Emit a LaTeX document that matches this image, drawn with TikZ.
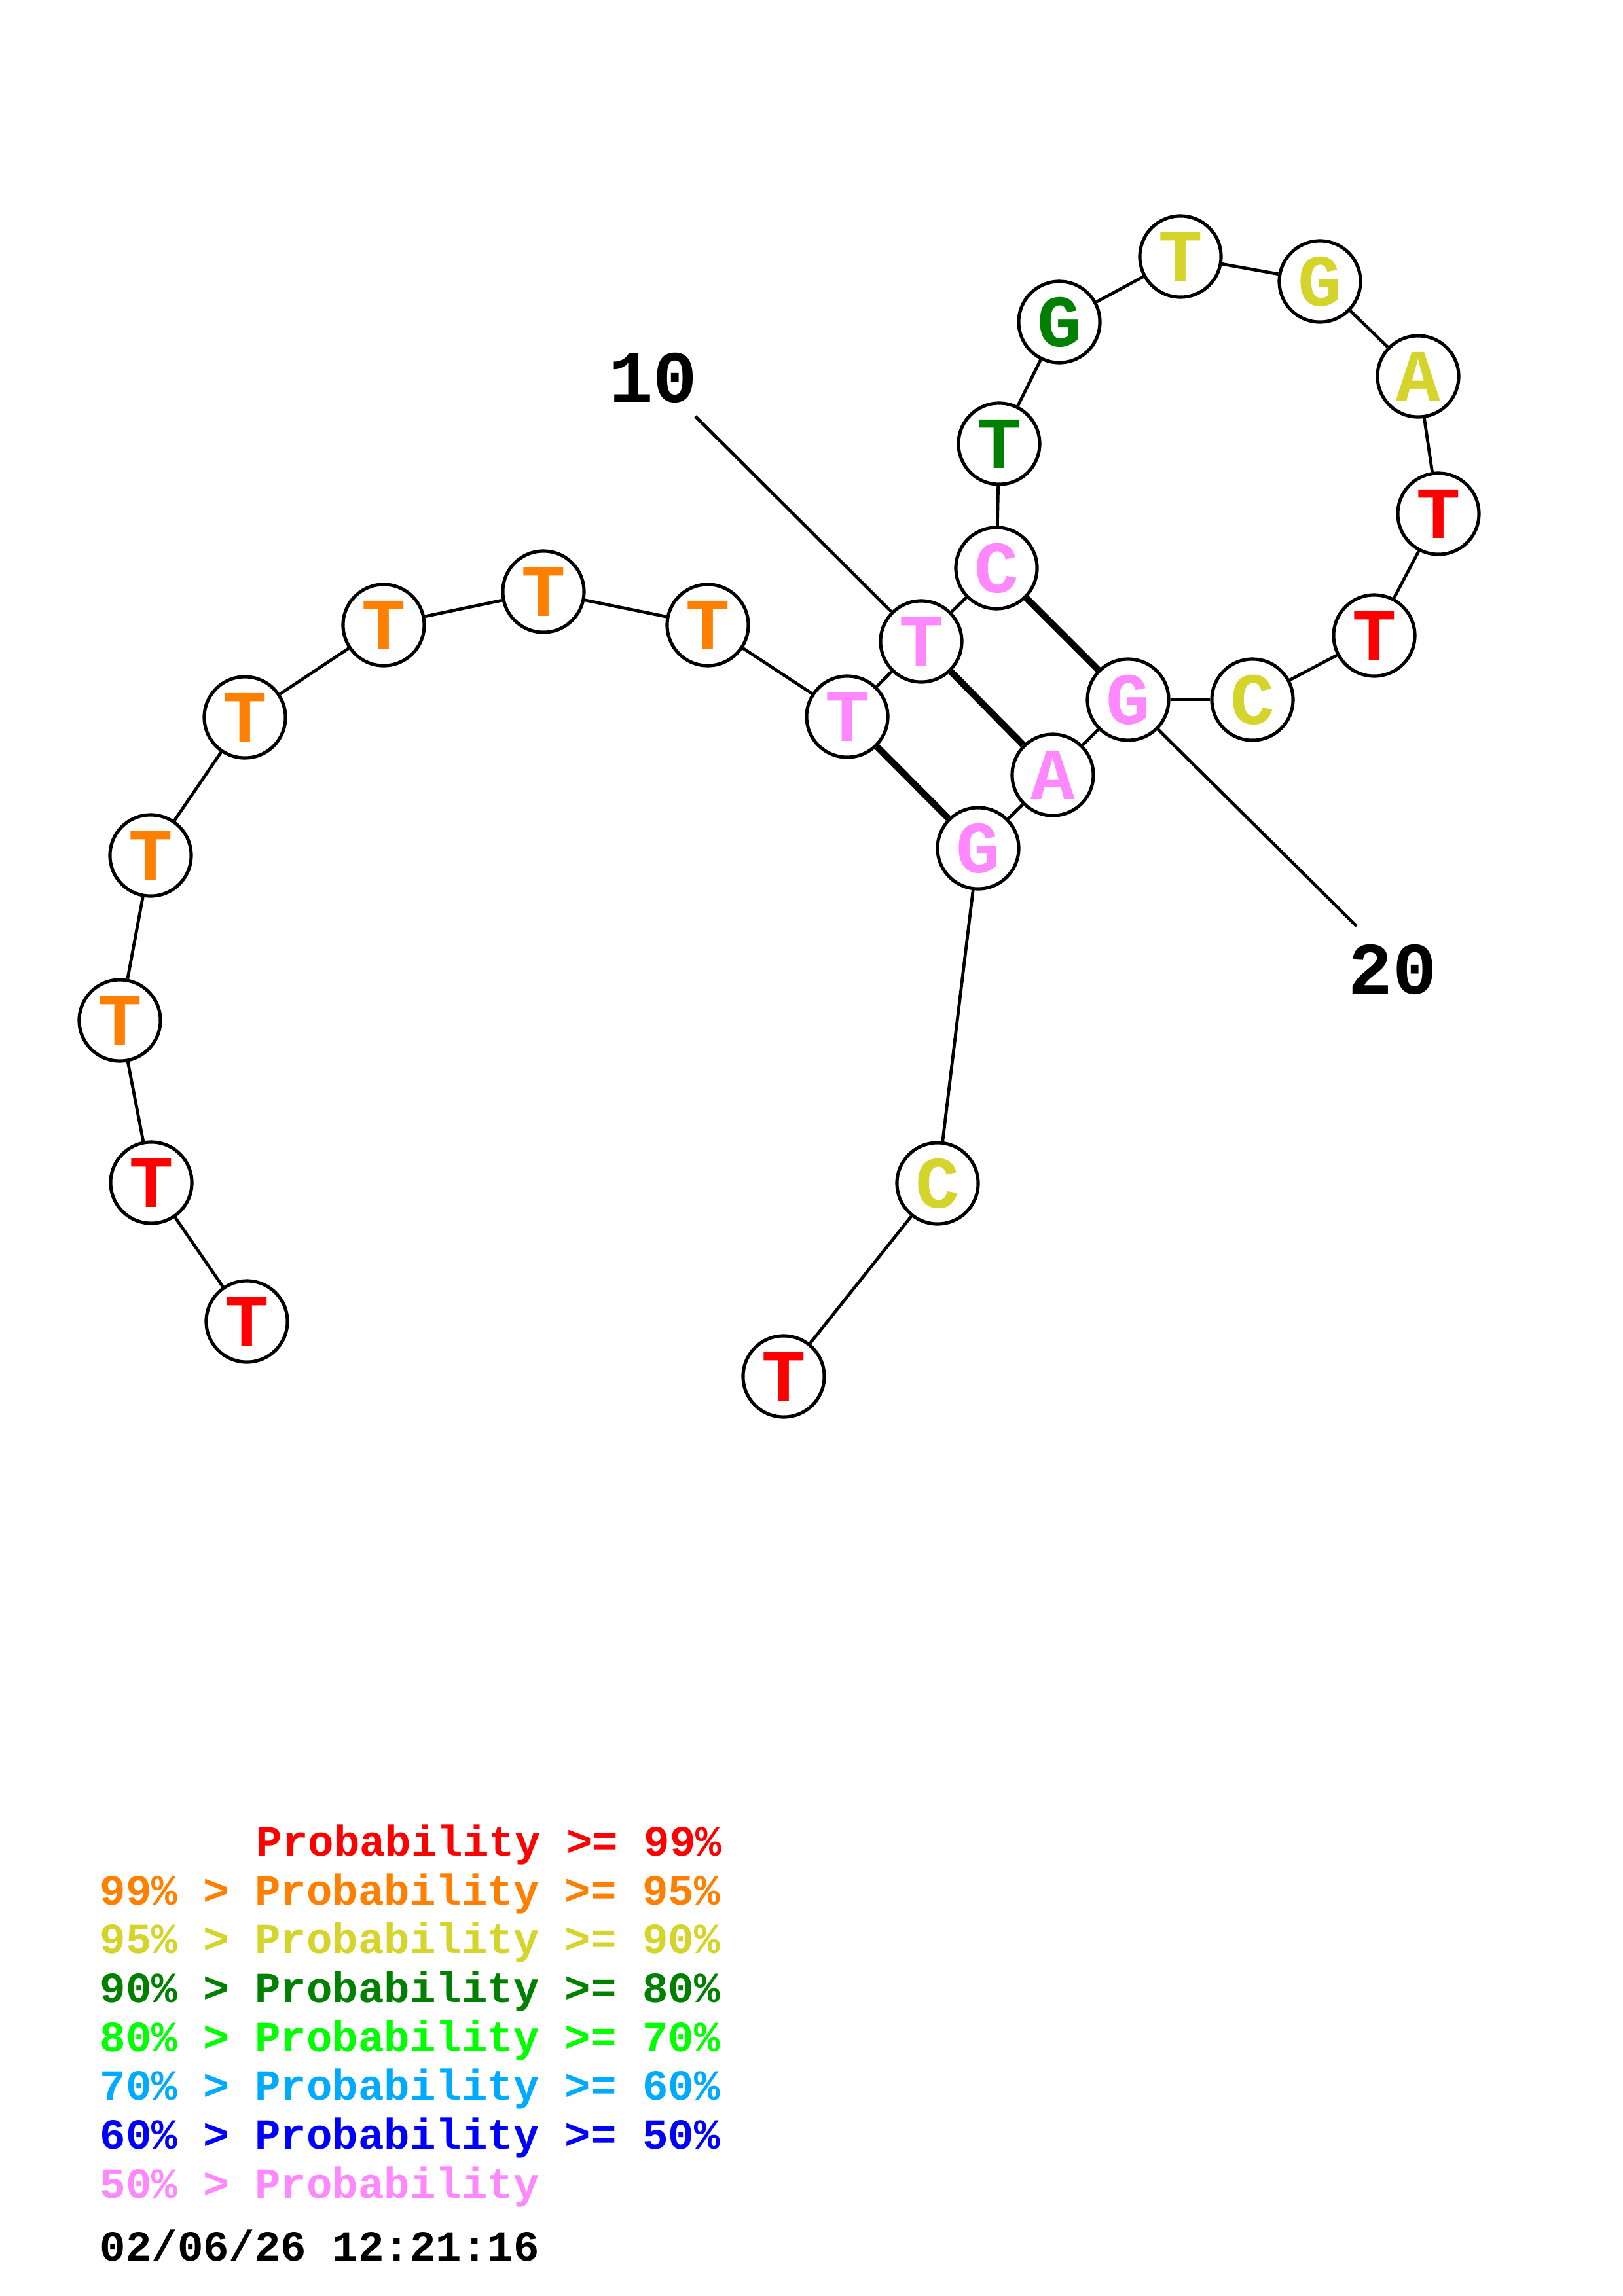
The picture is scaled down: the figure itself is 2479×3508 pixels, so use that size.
\documentclass[tikz,border=0pt]{standalone}
\usepackage{fontspec}
\newfontfamily\monob[BoldFont={Liberation Mono Bold}]{Liberation Mono}
\definecolor{cred}{RGB}{255,0,0}
\definecolor{corange}{RGB}{255,128,0}
\definecolor{cyellow}{RGB}{212,212,42}
\definecolor{cdgreen}{RGB}{0,128,0}
\definecolor{clime}{RGB}{0,255,0}
\definecolor{clblue}{RGB}{0,170,255}
\definecolor{cblue}{RGB}{0,0,255}
\definecolor{cpink}{RGB}{255,136,255}
\tikzset{
  base/.style={circle,draw=black,line width=1.45pt,fill=white,minimum size=1.24cm,inner sep=0pt,
    font=\monob\bfseries\fontsize{32}{32}\selectfont},
  nr/.style={base,text=cred},
  no/.style={base,text=corange},
  ny/.style={base,text=cyellow},
  ng/.style={base,text=cdgreen},
  np/.style={base,text=cpink},
  bb/.style={line width=1.35pt,draw=black},
  pairln/.style={line width=2.9pt,draw=black},
  numlbl/.style={font=\monob\bfseries\fontsize{32}{32}\selectfont,text=black,inner sep=0pt},
  leg/.style={font=\monob\bfseries\fontsize{18.7}{18.7}\selectfont,anchor=base west,inner sep=0pt}
}
\begin{document}
\begin{tikzpicture}[x=0.01cm,y=-0.01cm]
\useasboundingbox (0,0) rectangle (2479,3508);
\fill[white] (0,0) rectangle (2479,3508);
% nodes
\node[nr] (n1) at (377,2019) {T};
\node[nr] (n2) at (231,1807) {T};
\node[no] (n3) at (183,1559) {T};
\node[no] (n4) at (230,1307) {T};
\node[no] (n5) at (374,1096) {T};
\node[no] (n6) at (586,955) {T};
\node[no] (n7) at (830,904) {T};
\node[no] (n8) at (1081,955) {T};
\node[np] (n9) at (1294,1095) {T};
\node[np] (n10) at (1407,980) {T};
\node[np] (n11) at (1522,868) {C};
\node[ng] (n12) at (1526,678) {T};
\node[ng] (n13) at (1618,492) {G};
\node[ny] (n14) at (1803,392) {T};
\node[ny] (n15) at (2016,430) {G};
\node[ny] (n16) at (2166,575) {A};
\node[nr] (n17) at (2197,785) {T};
\node[nr] (n18) at (2099,971) {T};
\node[ny] (n19) at (1913,1069) {C};
\node[np] (n20) at (1723,1069) {G};
\node[np] (n21) at (1608,1184) {A};
\node[np] (n22) at (1494,1296) {G};
\node[ny] (n23) at (1432,1808) {C};
\node[nr] (n24) at (1197,2103) {T};
% backbone
\foreach \a/\b in {1/2,2/3,3/4,4/5,5/6,6/7,7/8,8/9,9/10,10/11,11/12,12/13,13/14,14/15,15/16,16/17,17/18,18/19,19/20,20/21,21/22,22/23,23/24}
  \draw[bb] (n\a) -- (n\b);
% pairs
\draw[pairln] (n11) -- (n20);
\draw[pairln] (n10) -- (n21);
\draw[pairln] (n9) -- (n22);
% numbering
\node[numlbl] (l10) at (998,577) {10};
\node[numlbl] (l20) at (2127,1481) {20};
\coordinate (c10) at (1062,636);
\coordinate (c20) at (2072,1415);
\draw[bb] (n10) -- (c10);
\draw[bb] (n20) -- (c20);
% legend
\node[leg,text=cred] (g1) at (391,2835) {Probability >= 99\%};
\node[leg,text=corange] (g2) at (152,2910) {99\% > Probability >= 95\%};
\node[leg,text=cyellow] (g3) at (152,2984) {95\% > Probability >= 90\%};
\node[leg,text=cdgreen] (g4) at (152,3059) {90\% > Probability >= 80\%};
\node[leg,text=clime] (g5) at (152,3134) {80\% > Probability >= 70\%};
\node[leg,text=clblue] (g6) at (152,3208) {70\% > Probability >= 60\%};
\node[leg,text=cblue] (g7) at (152,3283) {60\% > Probability >= 50\%};
\node[leg,text=cpink] (g8) at (152,3358) {50\% > Probability};
\node[leg,text=black] (g9) at (152,3454) {02/06/26 12:21:16};
\end{tikzpicture}
\end{document}
